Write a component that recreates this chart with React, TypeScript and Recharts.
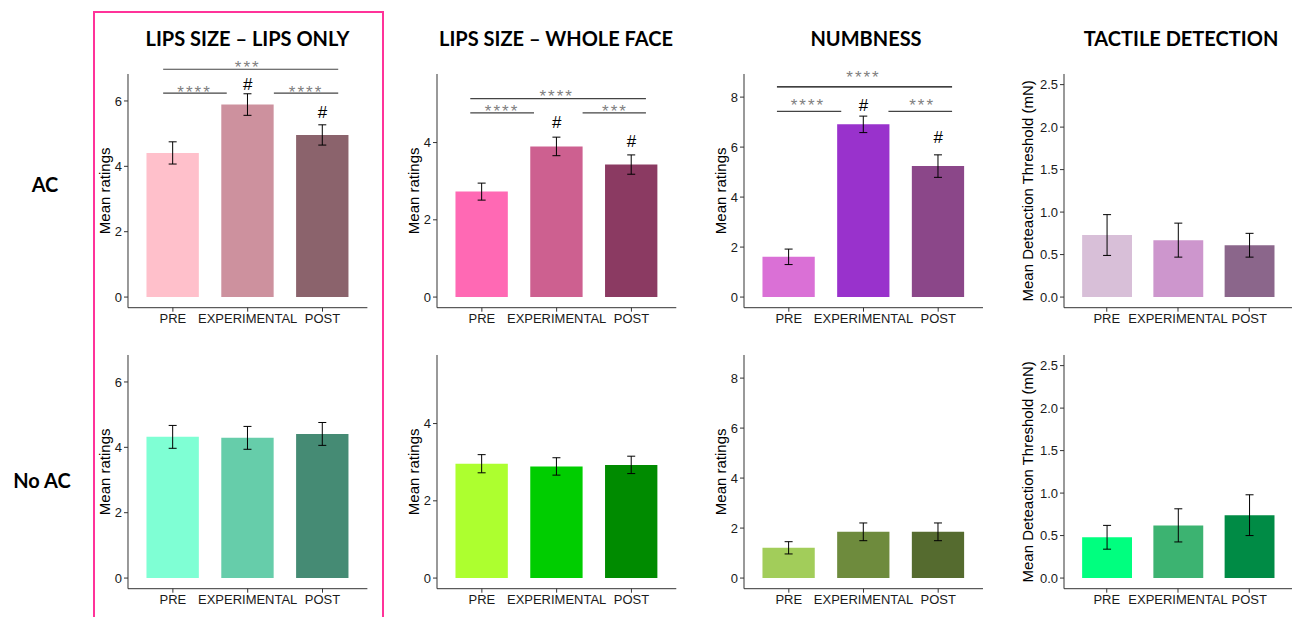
import React from 'react';
import { BarChart, Bar, XAxis, YAxis, Cell, ErrorBar, ReferenceLine, ReferenceDot } from 'recharts';

// conditions on the x axis (positions 1..3 on a numeric axis, like ggplot)
const conditions = ['PRE', 'EXPERIMENTAL', 'POST'];
const conditionPos = [1, 2, 3];

// AC row
const lipsOnlyAC = [4.41, 5.89, 4.96];
const lipsOnlyACErr = [0.34, 0.33, 0.31];
const wholeFaceAC = [2.73, 3.9, 3.43];
const wholeFaceACErr = [0.22, 0.24, 0.25];
const numbnessAC = [1.61, 6.91, 5.24];
const numbnessACErr = [0.31, 0.33, 0.45];
const tactileAC = [0.73, 0.67, 0.61];
const tactileACErr = [0.24, 0.2, 0.14];

// No AC row
const lipsOnlyNoAC = [4.32, 4.29, 4.41];
const lipsOnlyNoACErr = [0.35, 0.35, 0.35];
const wholeFaceNoAC = [2.96, 2.89, 2.93];
const wholeFaceNoACErr = [0.235, 0.225, 0.225];
const numbnessNoAC = [1.21, 1.85, 1.85];
const numbnessNoACErr = [0.245, 0.355, 0.355];
const tactileNoAC = [0.48, 0.62, 0.74];
const tactileNoACErr = [0.14, 0.195, 0.24];

// y axis ticks
const ratingTicks6 = [0, 2, 4, 6];
const ratingTicks4 = [0, 2, 4];
const ratingTicks8 = [0, 2, 4, 6, 8];
const thresholdTicks = [0, 0.5, 1, 1.5, 2, 2.5];

// significance brackets (data units) and their labels
type Bracket = { x1: number; x2: number; y: number };
type Mark = { x: number; y: number; text: string };

const lipsOnlyBrackets: Bracket[] = [
  { x1: 0.87, x2: 3.21, y: 6.97 },
  { x1: 0.87, x2: 1.72, y: 6.24 },
  { x1: 2.35, x2: 3.21, y: 6.24 },
];
const lipsOnlyMarks: Mark[] = [
  { x: 2.0, y: 7.04, text: '***' },
  { x: 1.29, y: 6.29, text: '****' },
  { x: 2.78, y: 6.29, text: '****' },
  { x: 2.0, y: 6.52, text: '#' },
  { x: 3.0, y: 5.65, text: '#' },
];
const wholeFaceBrackets: Bracket[] = [
  { x1: 0.845, x2: 3.194, y: 5.14 },
  { x1: 0.845, x2: 1.697, y: 4.77 },
  { x1: 2.347, x2: 3.194, y: 4.77 },
];
const wholeFaceMarks: Mark[] = [
  { x: 2.0, y: 5.21, text: '****' },
  { x: 1.27, y: 4.81, text: '****' },
  { x: 2.78, y: 4.81, text: '***' },
  { x: 2.0, y: 4.53, text: '#' },
  { x: 3.0, y: 4.04, text: '#' },
];
const numbnessBrackets: Bracket[] = [
  { x1: 0.841, x2: 3.186, y: 8.41 },
  { x1: 0.841, x2: 1.702, y: 7.43 },
  { x1: 2.334, x2: 3.186, y: 7.43 },
];
const numbnessMarks: Mark[] = [
  { x: 2.0, y: 8.8, text: '****' },
  { x: 1.256, y: 7.69, text: '****' },
  { x: 2.785, y: 7.69, text: '***' },
  { x: 2.0, y: 7.67, text: '#' },
  { x: 3.0, y: 6.4, text: '#' },
];

// fill colours (R colour names)
const pinkColors = ['#FFC0CB', '#CD919E', '#8B636C'];
const hotpinkColors = ['#FF69B4', '#CD6090', '#8B3A62'];
const orchidColors = ['#DA70D6', '#9932CC', '#8B4789'];
const plumColors = ['#D8BFD8', '#CD96CD', '#8B668B'];
const aquaColors = ['#7FFFD4', '#66CDAA', '#458B74'];
const greenColors = ['#ADFF2F', '#00CD00', '#008B00'];
const oliveColors = ['#A2CD5A', '#6E8B3D', '#556B2F'];
const springColors = ['#00FF7F', '#3CB371', '#008B45'];

const AXIS_FONT = '"Liberation Sans", Arial, sans-serif';
const TITLE_FONT = 'Lato, "Open Sans", sans-serif';

type PanelProps = {
  axisX: number;
  plotTop: number;
  plotW: number;
  plotH: number;
  yWidth: number;
  domain: [number, number];
  ticks: number[];
  values: number[];
  errors: number[];
  colors: string[];
  ylabel: string;
  decimals?: boolean;
  brackets?: Bracket[];
  bracketColors?: string[];
  marks?: Mark[];
};

const Panel = ({
  axisX, plotTop, plotW, plotH, yWidth, domain, ticks, values, errors, colors, ylabel,
  decimals = false, brackets = [], bracketColors = [], marks = [],
}: PanelProps) => {
  const data = conditionPos.map((pos, i) => ({ pos, mean: values[i], err: errors[i] }));
  const mt = 40;
  const mr = 6;
  const xh = 30;
  const barSize = (0.7 * plotW) / 3.2;
  return (
    <div style={{ position: 'absolute', left: axisX - yWidth, top: plotTop - mt }}>
      <BarChart
        width={yWidth + plotW + mr}
        height={mt + plotH + xh}
        data={data}
        margin={{ top: mt, right: mr, bottom: 0, left: 0 }}
      >
        <XAxis
          type="number"
          dataKey="pos"
          domain={[0.4, 3.6]}
          ticks={conditionPos}
          interval={0}
          allowDataOverflow
          tickFormatter={(v: number) => conditions[v - 1]}
          height={xh}
          tickSize={4}
          tickMargin={2}
          axisLine={{ stroke: '#333' }}
          tickLine={{ stroke: '#333' }}
          tick={{ fill: '#1a1a1a', fontSize: 13, fontFamily: AXIS_FONT }}
        />
        <YAxis
          type="number"
          domain={domain}
          ticks={ticks}
          interval={0}
          allowDataOverflow
          width={yWidth}
          tickFormatter={(v: number) => (decimals ? v.toFixed(1) : String(v))}
          tickSize={4}
          tickMargin={2}
          axisLine={{ stroke: '#333' }}
          tickLine={{ stroke: '#333' }}
          tick={{ fill: '#1a1a1a', fontSize: 13, fontFamily: AXIS_FONT }}
          label={{ value: ylabel, angle: -90, position: 'center', fontSize: 15, fill: '#000', fontFamily: AXIS_FONT }}
        />
        <Bar dataKey="mean" barSize={barSize} isAnimationActive={false}>
          {data.map((d, i) => (
            <Cell key={`cell-${i}`} fill={colors[i]} />
          ))}
          <ErrorBar dataKey="err" direction="y" width={4} stroke="#000" strokeWidth={1} />
        </Bar>
        {brackets.map((b, i) => (
          <ReferenceLine
            key={`br-${i}`}
            segment={[{ x: b.x1, y: b.y }, { x: b.x2, y: b.y }]}
            stroke={bracketColors[i] || '#444'}
            strokeWidth={1.2}
            ifOverflow="visible"
          />
        ))}
        {marks.map((m, i) => (
          <ReferenceDot
            key={`mk-${i}`}
            x={m.x}
            y={m.y}
            r={0}
            fill="none"
            stroke="none"
            ifOverflow="visible"
            label={{
              value: m.text,
              position: 'center',
              fontSize: 17,
              fontFamily: AXIS_FONT,
              fill: m.text === '#' ? '#000' : '#7f7f7f',
              letterSpacing: m.text === '#' ? 0 : 2,
            }}
          />
        ))}
      </BarChart>
    </div>
  );
};

const titleStyle = (cx: number): React.CSSProperties => ({
  position: 'absolute',
  left: cx,
  top: 38,
  transform: 'translate(-50%, -50%)',
  fontFamily: TITLE_FONT,
  fontWeight: 700,
  fontSize: 20,
  lineHeight: 1,
  whiteSpace: 'nowrap',
  color: '#000',
});

const rowLabelStyle = (cx: number, cy: number): React.CSSProperties => ({
  position: 'absolute',
  left: cx,
  top: cy,
  transform: 'translate(-50%, -50%)',
  fontFamily: TITLE_FONT,
  fontWeight: 700,
  fontSize: 20,
  lineHeight: 1,
  whiteSpace: 'nowrap',
  color: '#000',
});

const cols = [
  { axisX: 128.3, plotW: 239.4, yWidth: 47 },
  { axisX: 436.7, plotW: 239.3, yWidth: 47 },
  { axisX: 744.3, plotW: 239, yWidth: 47 },
  { axisX: 1064.3, plotW: 228, yWidth: 72 },
];
const rowTops = [73.5, 355];
const plotH = 233.7;

export default function App() {
  return (
    <div style={{ position: 'absolute', left: 0, top: 0, width: 1297, height: 617, background: '#fff', overflow: 'hidden' }}>
      <div style={{ position: 'absolute', left: 92.5, top: 11, width: 291, height: 660, border: '2.5px solid #FF3399', boxSizing: 'border-box' }} />

      <div style={titleStyle(247.5)}>LIPS SIZE – LIPS ONLY</div>
      <div style={titleStyle(556)}>LIPS SIZE – WHOLE FACE</div>
      <div style={titleStyle(866)}>NUMBNESS</div>
      <div style={titleStyle(1181)}>TACTILE DETECTION</div>

      <div style={rowLabelStyle(45, 184)}>AC</div>
      <div style={rowLabelStyle(42, 480)}>No AC</div>

      {/* AC row */}
      <Panel {...cols[0]} plotTop={rowTops[0]} plotH={plotH} domain={[-0.325, 6.825]} ticks={ratingTicks6}
        values={lipsOnlyAC} errors={lipsOnlyACErr} colors={pinkColors} ylabel="Mean ratings"
        brackets={lipsOnlyBrackets} marks={lipsOnlyMarks} />
      <Panel {...cols[1]} plotTop={rowTops[0]} plotH={plotH} domain={[-0.275, 5.775]} ticks={ratingTicks4}
        values={wholeFaceAC} errors={wholeFaceACErr} colors={hotpinkColors} ylabel="Mean ratings"
        brackets={wholeFaceBrackets} marks={wholeFaceMarks} />
      <Panel {...cols[2]} plotTop={rowTops[0]} plotH={plotH} domain={[-0.425, 8.925]} ticks={ratingTicks8}
        values={numbnessAC} errors={numbnessACErr} colors={orchidColors} ylabel="Mean ratings"
        brackets={numbnessBrackets} bracketColors={['#000']} marks={numbnessMarks} />
      <Panel {...cols[3]} plotTop={rowTops[0]} plotH={plotH} domain={[-0.125, 2.625]} ticks={thresholdTicks}
        values={tactileAC} errors={tactileACErr} colors={plumColors} ylabel="Mean Deteaction Threshold (mN)" decimals />

      {/* No AC row */}
      <Panel {...cols[0]} plotTop={rowTops[1]} plotH={plotH} domain={[-0.325, 6.825]} ticks={ratingTicks6}
        values={lipsOnlyNoAC} errors={lipsOnlyNoACErr} colors={aquaColors} ylabel="Mean ratings" />
      <Panel {...cols[1]} plotTop={rowTops[1]} plotH={plotH} domain={[-0.275, 5.775]} ticks={ratingTicks4}
        values={wholeFaceNoAC} errors={wholeFaceNoACErr} colors={greenColors} ylabel="Mean ratings" />
      <Panel {...cols[2]} plotTop={rowTops[1]} plotH={plotH} domain={[-0.425, 8.925]} ticks={ratingTicks8}
        values={numbnessNoAC} errors={numbnessNoACErr} colors={oliveColors} ylabel="Mean ratings" />
      <Panel {...cols[3]} plotTop={rowTops[1]} plotH={plotH} domain={[-0.125, 2.625]} ticks={thresholdTicks}
        values={tactileNoAC} errors={tactileNoACErr} colors={springColors} ylabel="Mean Deteaction Threshold (mN)" decimals />
    </div>
  );
}
